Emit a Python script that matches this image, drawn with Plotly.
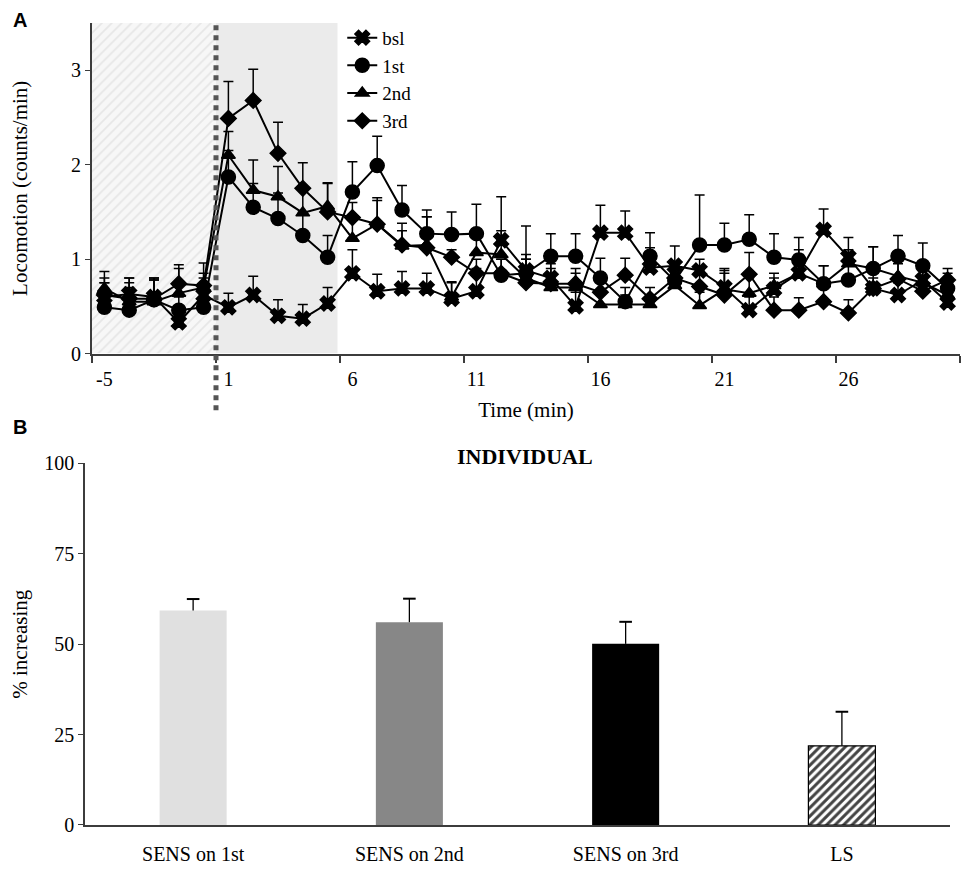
import plotly.graph_objects as go

# ---- panel A data: locomotion per minute (mean and upper SEM) ----
times = [-5, -4, -3, -2, -1] + list(range(1, 31))

bsl = [0.60, 0.63, 0.60, 0.33, 0.62,
       0.49, 0.62, 0.40, 0.37, 0.53,
       0.85, 0.66, 0.69, 0.69, 0.58,
       0.66, 1.20, 0.88, 0.80, 0.50,
       1.28, 1.28, 0.91, 0.93, 0.88,
       0.70, 0.46, 0.68, 0.85, 1.31,
       1.02, 0.69, 0.62, 0.78, 0.54]
bsl_err = [0.27, 0.17, 0.20, 0.14, 0.18,
           0.15, 0.20, 0.17, 0.15, 0.17,
           0.25, 0.18, 0.18, 0.16, 0.18,
           0.24, 0.46, 0.17, 0.20, 0.15,
           0.29, 0.23, 0.21, 0.21, 0.12,
           0.15, 0.14, 0.12, 0.25, 0.22,
           0.21, 0.16, 0.13, 0.12, 0.11]

first = [0.49, 0.46, 0.57, 0.46, 0.49,
         1.87, 1.55, 1.43, 1.25, 1.02,
         1.71, 1.99, 1.52, 1.27, 1.26,
         1.27, 0.83, 0.85, 1.03, 1.03,
         0.80, 0.55, 1.03, 0.77, 1.15,
         1.15, 1.21, 1.02, 0.99, 0.74,
         0.78, 0.90, 1.03, 0.93, 0.69]
first_err = [0.26, 0.24, 0.21, 0.14, 0.21,
             0.28, 0.25, 0.27, 0.25, 0.23,
             0.32, 0.31, 0.26, 0.25, 0.24,
             0.31, 0.17, 0.15, 0.24, 0.24,
             0.21, 0.15, 0.25, 0.18, 0.53,
             0.23, 0.26, 0.25, 0.24, 0.19,
             0.17, 0.23, 0.22, 0.24, 0.16]

second = [0.69, 0.55, 0.55, 0.64, 0.70,
          2.10, 1.73, 1.66, 1.49, 1.56,
          1.22, 1.37, 1.14, 1.15, 0.60,
          1.07, 1.05, 0.80, 0.70, 0.70,
          0.52, 0.52, 0.52, 0.72, 0.51,
          0.68, 0.64, 0.72, 0.85, 0.74,
          0.95, 0.90, 0.82, 0.75, 0.62]
second_err = [0.11, 0.20, 0.25, 0.26, 0.26,
              0.25, 0.32, 0.32, 0.27, 0.24,
              0.23, 0.25, 0.24, 0.30, 0.15,
              0.23, 0.25, 0.20, 0.20, 0.20,
              0.13, 0.10, 0.10, 0.13, 0.14,
              0.22, 0.16, 0.13, 0.20, 0.19,
              0.15, 0.23, 0.18, 0.15, 0.18]

third = [0.62, 0.58, 0.58, 0.74, 0.72,
         2.49, 2.68, 2.12, 1.75, 1.50,
         1.44, 1.37, 1.15, 1.12, 1.02,
         0.85, 0.85, 0.75, 0.74, 0.74,
         0.65, 0.83, 0.58, 0.80, 0.71,
         0.62, 0.84, 0.46, 0.46, 0.55,
         0.43, 0.69, 0.79, 0.66, 0.78]
third_err = [0.13, 0.22, 0.20, 0.20, 0.13,
             0.39, 0.33, 0.33, 0.27, 0.31,
             0.16, 0.28, 0.15, 0.33, 0.08,
             0.15, 0.15, 0.60, 0.21, 0.11,
             0.20, 0.18, 0.12, 0.15, 0.14,
             0.26, 0.23, 0.14, 0.13, 0.15,
             0.14, 0.11, 0.16, 0.14, 0.12]

tick_times = [-5, 1, 6, 11, 16, 21, 26]
n_pre = 5          # minutes before injection (hatched)
n_post_hl = 5      # highlighted minutes after injection (gray)
y_top_a = 3.5

# ---- panel B data ----
groups = ["SENS on 1st", "SENS on 2nd", "SENS on 3rd", "LS"]
pct = [59.3, 56.1, 50.1, 21.9]
pct_err = [3.2, 6.5, 6.1, 9.4]
bar_colors = ["#e0e0e0", "#878787", "#000000", "#ffffff"]

SERIF = "Liberation Serif, Times New Roman, serif"
TICKFONT = dict(family=SERIF, size=20, color="black")
TITLEFONT = dict(family=SERIF, size=21, color="black")
AXCOL = "#3c3c3c"
pos = list(range(len(times)))

fig = go.Figure()

# hatched baseline window
x0, x1 = -0.5, n_pre - 0.5
fig.add_trace(go.Scatter(
    x=[x0, x1, x1, x0, x0], y=[0, 0, y_top_a, y_top_a, 0],
    mode="lines", fill="toself", line=dict(width=0),
    fillcolor="#f7f7f7",
    fillpattern=dict(shape="/", fgcolor="#d6d6d6", bgcolor="#f7f7f7",
                     size=7, solidity=0.25),
    showlegend=False, hoverinfo="skip", xaxis="x", yaxis="y"))

series = [
    ("bsl", bsl, bsl_err, "x", 13),
    ("1st", first, first_err, "circle", 14),
    ("2nd", second, second_err, "triangle-up", 12),
    ("3rd", third, third_err, "diamond", 12),
]
for name, vals, err, sym, sz in series:
    fig.add_trace(go.Scatter(
        x=pos, y=vals, name=name, mode="lines+markers",
        line=dict(color="black", width=2),
        marker=dict(symbol=sym, size=sz, color="black",
                    line=dict(color="black", width=1.5)),
        error_y=dict(type="data", array=err, symmetric=False,
                     arrayminus=[0] * len(err), color="black",
                     thickness=1.5, width=5),
        xaxis="x", yaxis="y"))

fig.add_trace(go.Bar(
    x=groups, y=pct,
    marker=dict(color=bar_colors, line=dict(color="black", width=[0, 0, 0, 1.2]),
                pattern=dict(shape=["", "", "", "/"], fgcolor="black",
                             fgopacity=1, bgcolor="white", size=6,
                             solidity=0.5)),
    error_y=dict(type="data", array=pct_err, symmetric=False,
                 arrayminus=[0] * len(pct_err), color="black",
                 thickness=1.3, width=0),
    width=0.31, showlegend=False, xaxis="x2", yaxis="y2"))
# caps on top of the bar error stems
fig.add_trace(go.Scatter(
    x=groups, y=[v + e for v, e in zip(pct, pct_err)], mode="markers",
    marker=dict(symbol="line-ew-open", size=9, color="black",
                line=dict(color="black", width=2)),
    showlegend=False, hoverinfo="skip", xaxis="x2", yaxis="y2"))

# gray post-injection window and injection marker
fig.add_shape(type="rect", xref="x", yref="y", x0=n_pre - 0.5,
              x1=n_pre + n_post_hl - 0.6, y0=0, y1=y_top_a,
              fillcolor="#ebebeb", line=dict(width=0), layer="below")
fig.add_shape(type="line", xref="x", yref="paper", x0=n_pre - 0.5,
              x1=n_pre - 0.5, y0=0.517, y1=1.0,
              line=dict(color="#555555", width=5, dash="dot"))

tick_pos = [times.index(t) for t in tick_times]
fig.update_layout(
    width=972, height=870,
    margin=dict(l=77, r=20, t=14, b=53),
    paper_bgcolor="white", plot_bgcolor="white",
    font=dict(family=SERIF, size=20, color="black"),
    xaxis=dict(domain=[0.008, 1.0], range=[-0.5, len(times) - 0.5],
               tickmode="array", tickvals=tick_pos,
               ticktext=[str(t) for t in tick_times], ticks="",
               tickfont=TICKFONT, ticklabelstandoff=6,
               minor=dict(tickmode="array",
                          tickvals=[p - 0.5 for p in tick_pos] + [len(times) - 0.5],
                          ticks="outside", ticklen=7, tickcolor=AXCOL,
                          tickwidth=1.5),
               showline=True, linecolor=AXCOL, linewidth=2,
               showgrid=False, zeroline=False, anchor="y", automargin=False,
               title=dict(text="Time (min)", standoff=14, font=TITLEFONT)),
    yaxis=dict(domain=[0.5878, 1.0], range=[0, y_top_a],
               tickvals=[0, 1, 2, 3], ticks="outside", ticklen=5,
               tickcolor=AXCOL, tickfont=TICKFONT, showline=True,
               linecolor=AXCOL, linewidth=2, showgrid=False, zeroline=False,
               anchor="x", automargin=False,
               title=dict(text="Locomotion (counts/min)", standoff=40,
                          font=TITLEFONT)),
    xaxis2=dict(domain=[0.0, 0.9886], showline=True, linecolor=AXCOL,
                linewidth=2, ticks="", showgrid=False, anchor="y2",
                tickfont=TICKFONT, ticklabelstandoff=10, automargin=False),
    yaxis2=dict(domain=[0.0, 0.4508], range=[0, 100],
                tickvals=[0, 25, 50, 75, 100], ticks="outside", ticklen=5,
                tickcolor=AXCOL, tickfont=TICKFONT, showline=True,
                linecolor=AXCOL, linewidth=1.5, showgrid=False,
                zeroline=False, anchor="x2", automargin=False,
                title=dict(text="% increasing", standoff=14, font=TITLEFONT)),
    legend=dict(x=0.294, y=1.004, xanchor="left", yanchor="top",
                bgcolor="rgba(0,0,0,0)", tracegroupgap=0,
                font=dict(family=SERIF, size=19)),
    annotations=[
        dict(text="<b>A</b>", x=-0.085, y=1.02, xref="paper", yref="paper",
             xanchor="left", yanchor="top", showarrow=False,
             font=dict(family="Liberation Sans", size=20)),
        dict(text="<b>B</b>", x=-0.085, y=0.512, xref="paper", yref="paper",
             xanchor="left", yanchor="top", showarrow=False,
             font=dict(family="Liberation Sans", size=20)),
        dict(text="<b>INDIVIDUAL</b>", x=0.503, y=0.4595, xref="paper",
             yref="paper", xanchor="center", yanchor="middle",
             showarrow=False, font=dict(family=SERIF, size=22)),
    ],
)

fig.write_html("out.html")
